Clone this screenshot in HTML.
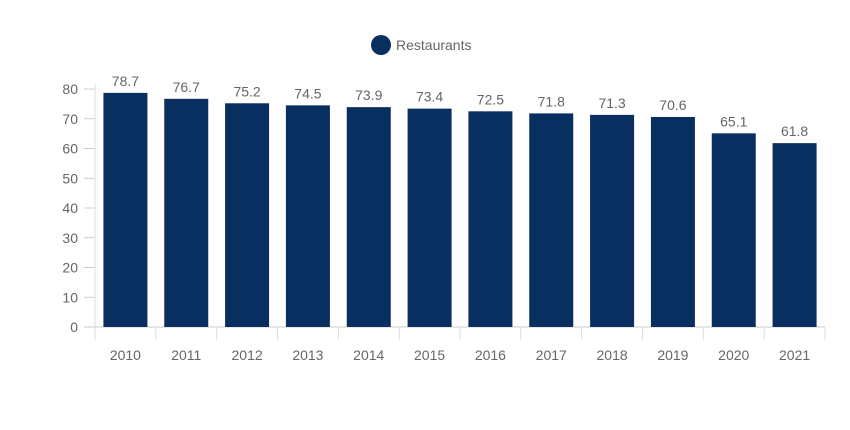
<!DOCTYPE html>
<html><head><meta charset="utf-8"><style>
body{margin:0;background:#fff;font-family:"Liberation Sans",sans-serif}
text{font-family:"Liberation Sans",sans-serif}
</style></head><body>
<svg id="chart" width="850" height="425">
<g>
<circle cx="381" cy="45" r="10" fill="#082f5f"/>
<text x="396" y="50" font-size="14" fill="#666">Restaurants</text>
</g>
<g id="axes"></g><g id="bars"></g>
</svg>
<script>
const categories=["2010","2011","2012","2013","2014","2015","2016","2017","2018","2019","2020","2021"];
const values=[78.7,76.7,75.2,74.5,73.9,73.4,72.5,71.8,71.3,70.6,65.1,61.8];
const yTicks=[0,10,20,30,40,50,60,70,80];
const NS="http://www.w3.org/2000/svg";
const x0=95,x1=825,yB=327,yT=89,yMax=80;
const bw=(x1-x0)/categories.length;
const y=v=>yB-(v/yMax)*(yB-yT);
const xc=i=>x0+bw*(i+0.5);
function mk(t,a,p){const e=document.createElementNS(NS,t);for(const k in a)e.setAttribute(k,a[k]);p.appendChild(e);return e;}
const ax=document.getElementById('axes'),bg=document.getElementById('bars');
const yl=mk('line',{x1:x0,x2:x0,y1:yT-5,y2:yB,stroke:'#ddd'},ax);


yTicks.forEach(t=>{
 const l=mk('line',{x1:84,x2:x0,y1:y(t),y2:y(t),stroke:'#ccc'},ax);
 
 
 const tx=mk('text',{x:78,y:y(t)+5,'text-anchor':'end','font-size':14,fill:'#666'},ax);
 tx.textContent=t;
 
 
});
const xl=mk('line',{x1:84,x2:x1,y1:yB,y2:yB,stroke:'#ccc'},ax);


for(let i=0;i<=categories.length;i++){
 const l=mk('line',{x1:x0+bw*i,x2:x0+bw*i,y1:yB,y2:yB+13,stroke:'#ddd'},ax);
 
 
}
categories.forEach((c,i)=>{
 const tx=mk('text',{x:xc(i),y:360,'text-anchor':'middle','font-size':14,fill:'#666'},ax);
 tx.textContent=c;
 
 
 const r=mk('rect',{x:xc(i)-22,width:44,y:y(values[i]),height:yB-y(values[i]),fill:'#082f5f'},bg);
 
 
 const v=mk('text',{x:xc(i),y:y(values[i])-7,'text-anchor':'middle','font-size':14,fill:'#666'},bg);
 v.textContent=values[i];
 
 
});
</script>
</body></html>
